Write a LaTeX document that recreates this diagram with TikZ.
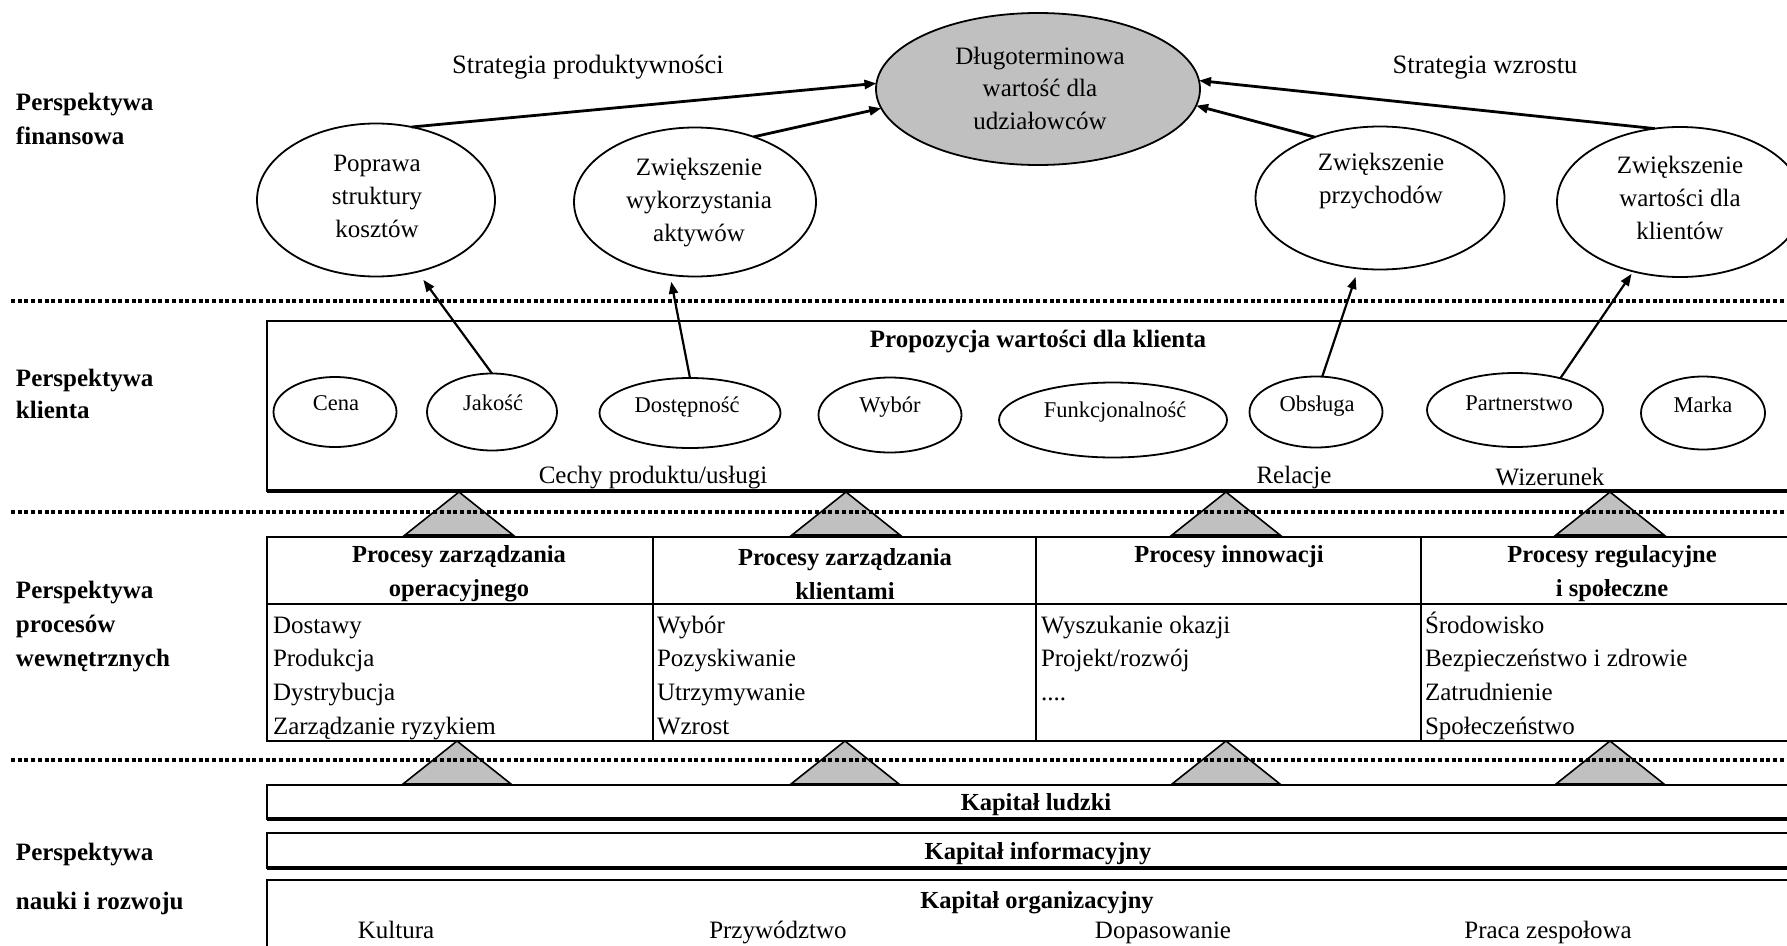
\documentclass[tikz,border=0pt]{standalone}
\usepackage{fontspec}
\setmainfont{Liberation Serif}
\usetikzlibrary{shapes.geometric,arrows.meta}
\definecolor{shade}{RGB}{192,192,192}
\begin{document}
\begin{tikzpicture}[x=1pt,y=-1pt,
  every node/.style={inner sep=0pt, outer sep=0pt},
  txt/.style={font=\fontsize{25}{33}\selectfont, align=center},
  strat/.style={font=\fontsize{26.5}{33}\selectfont},
  btxt/.style={font=\fontsize{24.5}{34}\selectfont\bfseries, align=center},
  side/.style={font=\fontsize{25}{34}\selectfont\bfseries, align=left, anchor=west},
  vtxt/.style={font=\fontsize{22.5}{27}\selectfont},
  body/.style={font=\fontsize{25}{30}\selectfont, anchor=base west},
  foot/.style={font=\fontsize{25}{30}\selectfont, anchor=base},
  oval/.style={draw, ellipse, line width=1.8pt},
  cell/.style={draw, line width=2.4pt, anchor=north west},
  band/.style={draw, line width=2pt, anchor=north west},
  sepline/.style={line width=3.3pt, dash pattern=on 4pt off 2.7pt},
  bigarr/.style={line width=2.8pt, -{Triangle[length=12pt,width=9pt]}},
  smallarr/.style={line width=2.2pt, -{Triangle[length=12pt,width=9pt]}},
  tri/.style={draw, fill=shade, line width=1.6pt, line join=miter},
]
\useasboundingbox (0,0) rectangle (1787,945);

% ---------- side captions ----------
\node[side] (lfin) at (16,119) {Perspektywa\\finansowa};
\node[side, font=\fontsize{25}{32}\selectfont\bfseries] (lkli) at (16,394) {Perspektywa\\klienta};
\node[side] (lproc) at (16,627) {Perspektywa\\procesów\\wewnętrznych};
\node[side] (lnau1) at (16,855) {Perspektywa};
\node[side] (lnau2) at (16,903) {nauki i rozwoju};

% ---------- financial perspective ----------
\node[oval, fill=shade, minimum width=324pt, minimum height=152pt] (goal) at (1038,89) {};
\node[txt, font=\fontsize{25}{32.5}\selectfont] (goalt) at (1040,88) {Długoterminowa\\wartość dla\\udziałowców};

\node[strat] (sprod) at (588,67) {Strategia produktywności};
\node[strat] (swzr) at (1485,68) {Strategia wzrostu};

\node[oval, minimum width=238pt, minimum height=153pt] (cost) at (376,200) {};
\node[txt] (costt) at (377,196) {Poprawa\\struktury\\kosztów};
\node[oval, minimum width=242pt, minimum height=149pt] (assets) at (695,202) {};
\node[txt] (assetst) at (699,203) {Zwiększenie\\wykorzystania\\aktywów};
\node[oval, minimum width=249pt, minimum height=143pt] (rev) at (1380,198) {};
\node[txt] (revt) at (1381,181) {Zwiększenie\\przychodów};
\node[oval, minimum width=246pt, minimum height=150pt] (cval) at (1680,202) {};
\node[txt] (cvalt) at (1680,198) {Zwiększenie\\wartości dla\\klientów};

\draw[bigarr] (cost.64) -- (goal.178);
\draw[bigarr] (assets.48) -- (goal.187);
\draw[bigarr] (rev.137) -- (goal.354);
\draw[bigarr] (cval.109) -- (goal.3);

% ---------- customer perspective ----------
\node[cell, minimum width=1540pt, minimum height=170pt] (cbox) at (267,321) {};
\draw[line width=3.4pt] (cbox.south west) -- (cbox.south east);
\node[btxt, font=\fontsize{25}{34}\selectfont\bfseries] (cboxt) at (1038,342) {Propozycja wartości dla klienta};

\node[oval, minimum width=123pt, minimum height=70pt] (cena) at (335,412) {};
\node[vtxt] (cenat) at (336,403) {Cena};
\node[oval, minimum width=130pt, minimum height=77pt] (jak) at (492,412) {};
\node[vtxt] (jakt) at (493,403) {Jakość};
\node[oval, minimum width=181pt, minimum height=70pt] (dost) at (690,413) {};
\node[vtxt] (dostt) at (687,407) {Dostępność};
\node[oval, minimum width=143pt, minimum height=75pt] (wyb) at (890,415) {};
\node[vtxt] (wybt) at (890,407) {Wybór};
\node[oval, minimum width=228pt, minimum height=75pt] (funk) at (1113,420) {};
\node[vtxt] (funkt) at (1115,412) {Funkcjonalność};
\node[oval, minimum width=133pt, minimum height=71pt] (obs) at (1316,412) {};
\node[vtxt] (obst) at (1317,406) {Obsługa};
\node[oval, minimum width=176pt, minimum height=74pt] (part) at (1515,410) {};
\node[vtxt] (partt) at (1519,403) {Partnerstwo};
\node[oval, minimum width=124pt, minimum height=73pt] (marka) at (1703,413) {};
\node[vtxt] (markat) at (1703,405) {Marka};

\node[txt] (cechy) at (653,478) {Cechy produktu/usługi};
\node[txt] (relacje) at (1294,477) {Relacje};
\node[txt] (wiz) at (1550,477) {Wizerunek};

\draw[smallarr, shorten >=10pt] (jak.north) -- (cost.300);
\draw[smallarr, shorten >=7pt] (dost.north) -- (assets.251);
\draw[smallarr, shorten >=9pt] (obs.80) -- (rev.253);
\draw[smallarr, shorten >=3pt] (part.35) -- (cval.236);

% ---------- internal processes ----------
\node[cell, minimum width=386pt, minimum height=67pt] (h1) at (267,537) {};
\node[cell, minimum width=383pt, minimum height=67pt] (h2) at (653,537) {};
\node[cell, minimum width=385pt, minimum height=67pt] (h3) at (1036,537) {};
\node[cell, minimum width=390pt, minimum height=67pt] (h4) at (1421,537) {};
\node[cell, minimum width=386pt, minimum height=137pt] (b1) at (267,604) {};
\node[cell, minimum width=383pt, minimum height=137pt] (b2) at (653,604) {};
\node[cell, minimum width=385pt, minimum height=137pt] (b3) at (1036,604) {};
\node[cell, minimum width=390pt, minimum height=137pt] (b4) at (1421,604) {};

\node[btxt] (h1t) at (459,574) {Procesy zarządzania\\operacyjnego};
\node[btxt] (h2t) at (845,574) {Procesy zarządzania\\klientami};
\node[btxt] (h3t) at (1229,557) {Procesy innowacji};
\node[btxt] (h4t) at (1612,574) {Procesy regulacyjne\\i społeczne};

\foreach \t [count=\i] in {{Dostawy}, {Produkcja}, {Dystrybucja}, {Zarządzanie ryzykiem}}
  \node[body] (p1-\i) at (273,{633+33.7*(\i-1)}) {\t};
\foreach \t [count=\i] in {{Wybór}, {Pozyskiwanie}, {Utrzymywanie}, {Wzrost}}
  \node[body] (p2-\i) at (657,{633+33.7*(\i-1)}) {\t};
\foreach \t [count=\i] in {{Wyszukanie okazji}, {Projekt/rozwój}, {{....}}}
  \node[body] (p3-\i) at (1041,{633+33.7*(\i-1)}) {\t};
\foreach \t [count=\i] in {{Środowisko}, {Bezpieczeństwo i zdrowie}, {Zatrudnienie}, {Społeczeństwo}}
  \node[body] (p4-\i) at (1425,{633+33.7*(\i-1)}) {\t};

% ---------- learning and growth ----------
\node[band, minimum width=1540pt, minimum height=34pt] (kl) at (267,785) {};
\draw[line width=3.6pt] (kl.south west) -- (kl.south east);
\node[btxt] (klt) at (1036,805) {Kapitał ludzki};
\node[band, minimum width=1540pt, minimum height=35pt] (ki) at (267,833) {};
\draw[line width=3.6pt] (ki.south west) -- (ki.south east);
\node[btxt] (kit) at (1038,854) {Kapitał informacyjny};
\node[band, minimum width=1540pt, minimum height=90pt] (ko) at (267,880) {};
\node[btxt] (kot) at (1037,903) {Kapitał organizacyjny};
\node[foot] (kult) at (396,938) {Kultura};
\node[foot] (przyw) at (778,938) {Przywództwo};
\node[foot] (dopas) at (1163,938) {Dopasowanie};
\node[foot] (praca) at (1548,938) {Praca zespołowa};

% ---------- support triangles ----------
\foreach \x in {459,846,1226,1610}
  \draw[tri] (\x-54,535) -- (\x,492) -- (\x+54,535) -- cycle;
\foreach \x in {457,845,1226,1610}
  \draw[tri] (\x-54,784) -- (\x,741) -- (\x+54,784) -- cycle;

% ---------- perspective separators ----------
\draw[sepline] (11,301) -- (1787,301);
\draw[sepline] (11,512) -- (1787,512);
\draw[sepline] (11,760) -- (1787,760);
\end{tikzpicture}
\end{document}
